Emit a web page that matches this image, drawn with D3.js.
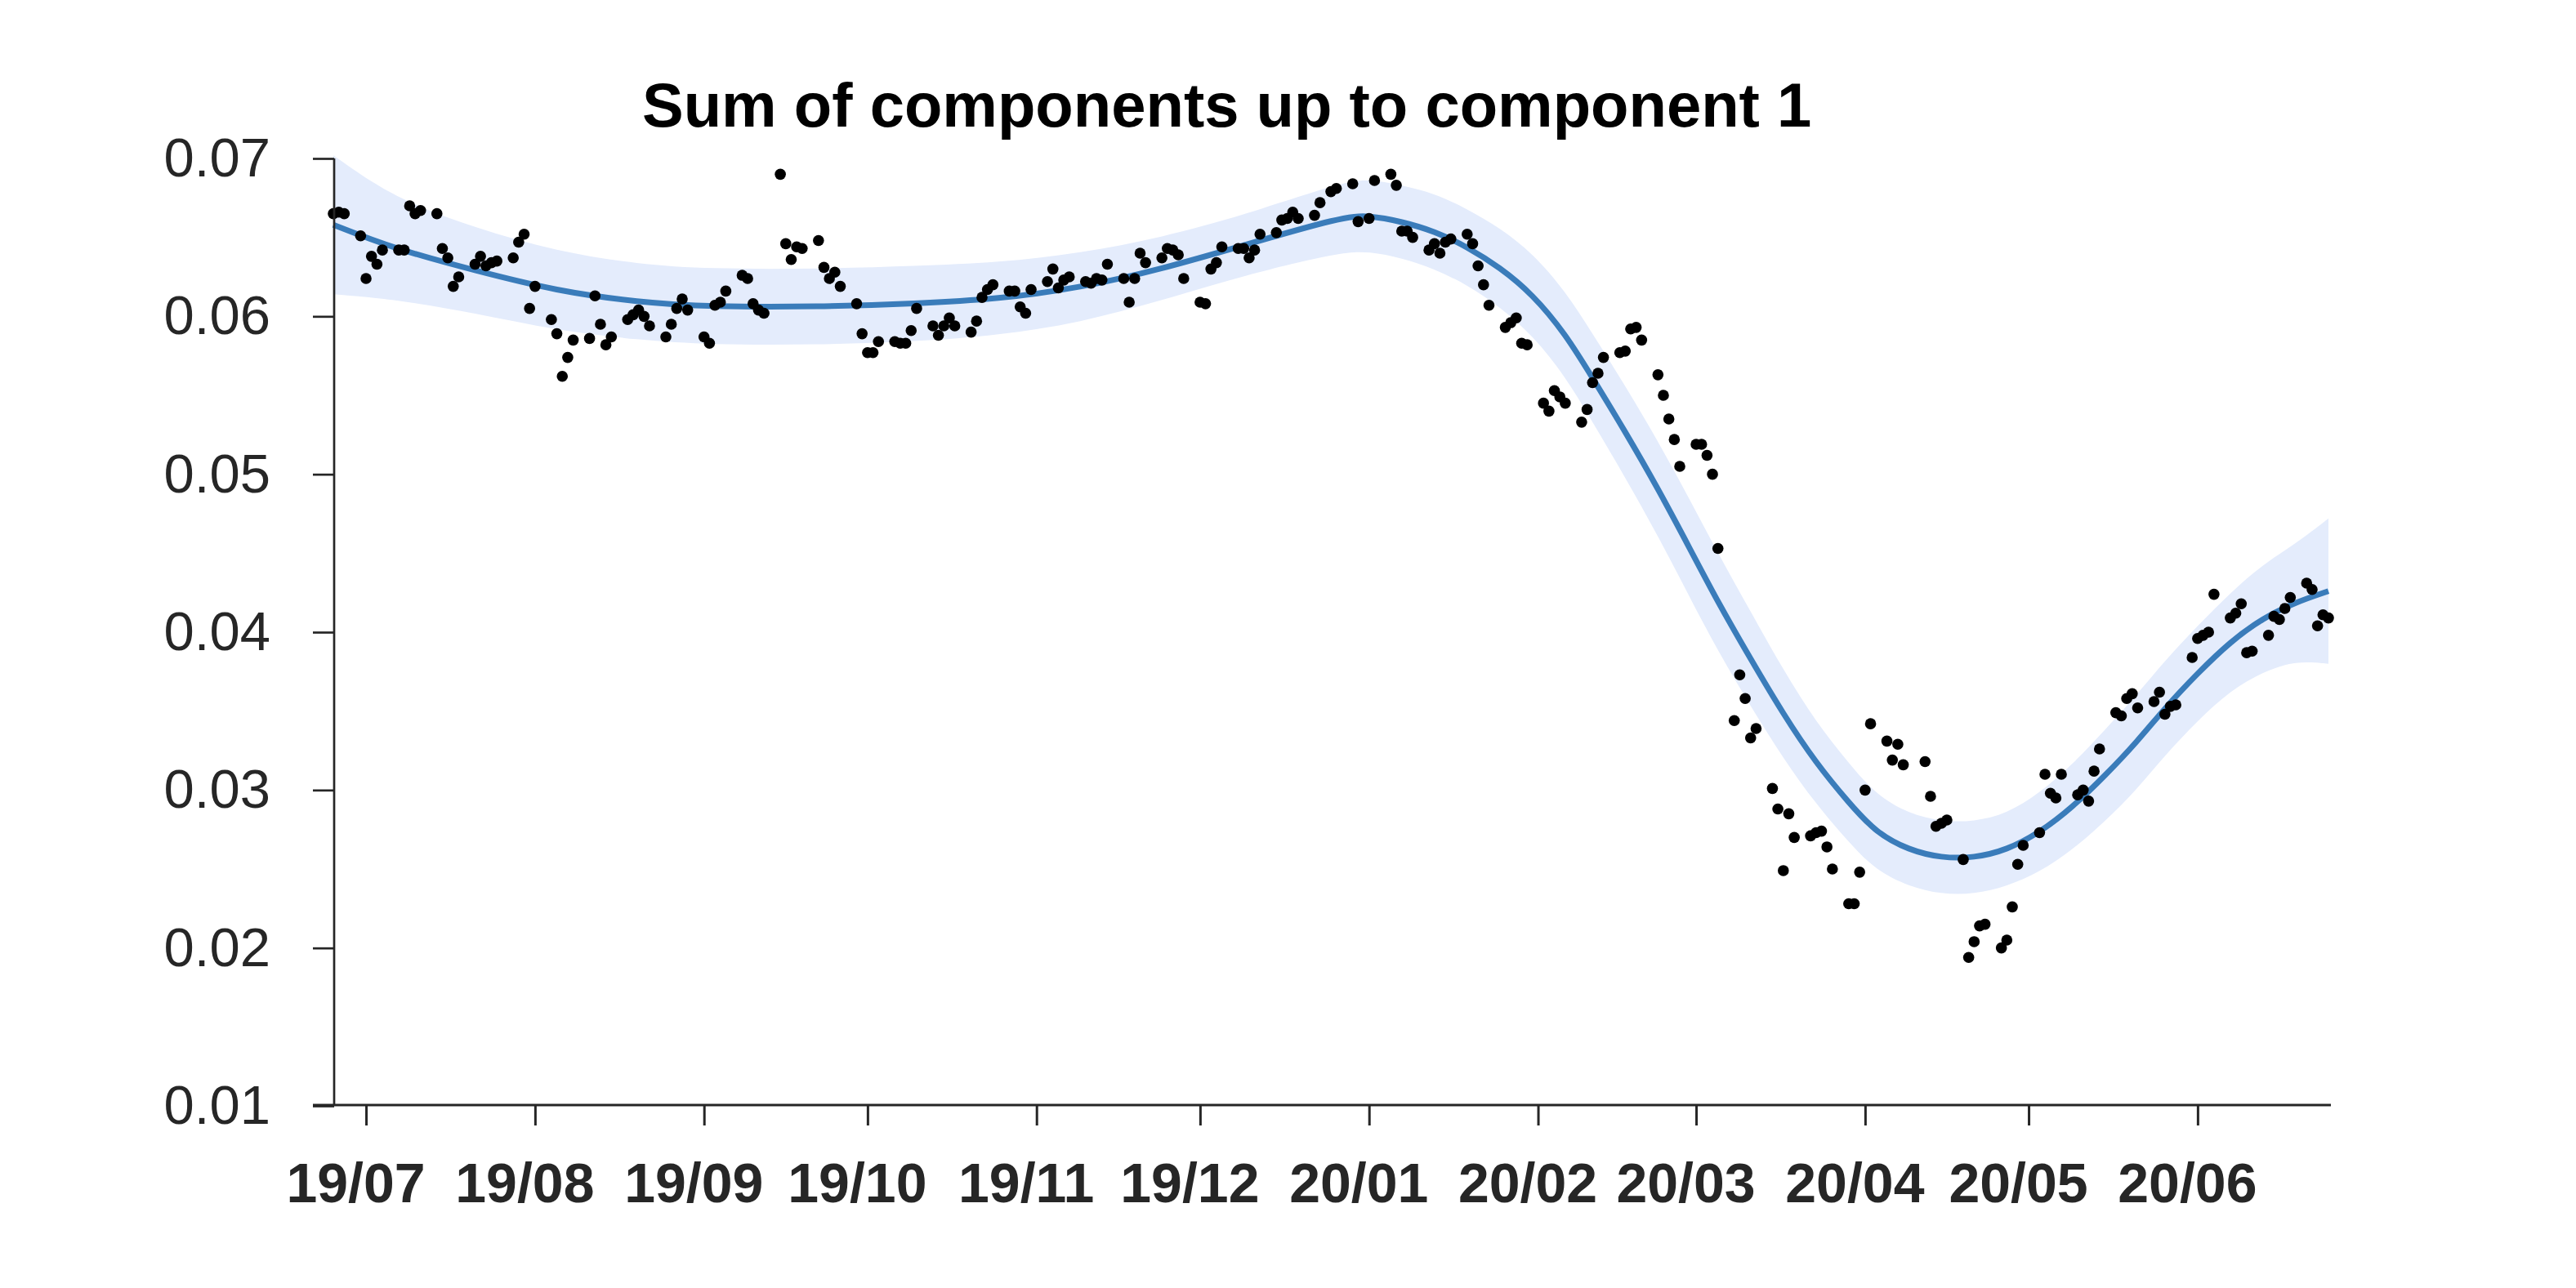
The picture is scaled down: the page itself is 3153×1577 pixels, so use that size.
<!DOCTYPE html>
<html><head><meta charset="utf-8">
<script src="https://cdn.jsdelivr.net/npm/d3@7"></script>
<style>
html,body{margin:0;padding:0;background:#fff;}
svg{display:block;font-family:"Liberation Sans",Arial,Helvetica,sans-serif;}
</style></head>
<body>
<svg id="chart" width="3153" height="1577"></svg>
<script>
const title = "Sum of components up to component 1";

// observed points (date, value)
const dates = [
"2019-06-25","2019-06-26","2019-06-27","2019-06-30","2019-07-01","2019-07-02","2019-07-03","2019-07-04",
"2019-07-07","2019-07-08","2019-07-09","2019-07-10","2019-07-11","2019-07-14","2019-07-15","2019-07-16","2019-07-17","2019-07-18",
"2019-07-21","2019-07-22","2019-07-23","2019-07-24","2019-07-25","2019-07-28","2019-07-29","2019-07-30","2019-07-31","2019-08-01",
"2019-08-04","2019-08-05","2019-08-06","2019-08-07","2019-08-08","2019-08-11","2019-08-12","2019-08-13","2019-08-14","2019-08-15",
"2019-08-18","2019-08-19","2019-08-20","2019-08-21","2019-08-22","2019-08-25","2019-08-26","2019-08-27","2019-08-28","2019-08-29",
"2019-09-01","2019-09-02","2019-09-03","2019-09-04","2019-09-05","2019-09-08","2019-09-09","2019-09-10","2019-09-11","2019-09-12",
"2019-09-15","2019-09-16","2019-09-17","2019-09-18","2019-09-19","2019-09-22","2019-09-23","2019-09-24","2019-09-25","2019-09-26",
"2019-09-29","2019-09-30","2019-10-01","2019-10-02","2019-10-03","2019-10-06","2019-10-07","2019-10-08","2019-10-09","2019-10-10",
"2019-10-13","2019-10-14","2019-10-15","2019-10-16","2019-10-17","2019-10-20","2019-10-21","2019-10-22","2019-10-23","2019-10-24",
"2019-10-27","2019-10-28","2019-10-29","2019-10-30","2019-10-31","2019-11-03","2019-11-04","2019-11-05","2019-11-06","2019-11-07",
"2019-11-10","2019-11-11","2019-11-12","2019-11-13","2019-11-14","2019-11-17","2019-11-18","2019-11-19","2019-11-20","2019-11-21",
"2019-11-24","2019-11-25","2019-11-26","2019-11-27","2019-11-28","2019-12-01","2019-12-02","2019-12-03","2019-12-04","2019-12-05",
"2019-12-08","2019-12-09","2019-12-10","2019-12-11","2019-12-12","2019-12-15","2019-12-16","2019-12-17","2019-12-18","2019-12-19",
"2019-12-22","2019-12-23","2019-12-25","2019-12-26","2019-12-29","2019-12-30","2020-01-01","2020-01-02",
"2020-01-05","2020-01-06","2020-01-07","2020-01-08","2020-01-09","2020-01-12","2020-01-13","2020-01-14","2020-01-15","2020-01-16",
"2020-01-19","2020-01-20","2020-01-21","2020-01-22","2020-01-23","2020-01-26","2020-01-27","2020-01-28","2020-01-29","2020-01-30",
"2020-02-02","2020-02-03","2020-02-04","2020-02-05","2020-02-06","2020-02-09","2020-02-10","2020-02-11","2020-02-12","2020-02-13",
"2020-02-16","2020-02-17","2020-02-18","2020-02-19","2020-02-20","2020-02-23","2020-02-24","2020-02-25","2020-02-26","2020-02-27",
"2020-03-01","2020-03-02","2020-03-03","2020-03-04","2020-03-05","2020-03-08","2020-03-09","2020-03-10","2020-03-11","2020-03-12",
"2020-03-15","2020-03-16","2020-03-17","2020-03-18","2020-03-19","2020-03-22","2020-03-23","2020-03-24","2020-03-25","2020-03-26",
"2020-03-29","2020-03-30","2020-03-31","2020-04-01","2020-04-02","2020-04-05","2020-04-06","2020-04-07","2020-04-08",
"2020-04-12","2020-04-13","2020-04-14","2020-04-15","2020-04-16","2020-04-19","2020-04-20","2020-04-21","2020-04-22","2020-04-23",
"2020-04-26","2020-04-27","2020-04-28","2020-04-29","2020-04-30","2020-05-03","2020-05-04","2020-05-05","2020-05-06","2020-05-07",
"2020-05-10","2020-05-11","2020-05-12","2020-05-13","2020-05-14","2020-05-17","2020-05-18","2020-05-19","2020-05-20","2020-05-21",
"2020-05-24","2020-05-25","2020-05-26","2020-05-27","2020-05-28","2020-05-31","2020-06-01","2020-06-02","2020-06-03","2020-06-04",
"2020-06-07","2020-06-08","2020-06-09","2020-06-10","2020-06-11","2020-06-14","2020-06-15","2020-06-16","2020-06-17","2020-06-18",
"2020-06-21","2020-06-22","2020-06-23","2020-06-24","2020-06-25"
];
const values = [
.0665,.0666,.0665,.0651,.0624,.0638,.0633,.0642,
.0642,.0642,.0670,.0665,.0667,.0665,.0643,.0637,.0619,.0625,
.0633,.0638,.0632,.0634,.0635,.0637,.0647,.0652,.0605,.0619,
.0598,.0589,.0562,.0574,.0585,.0586,.0613,.0595,.0582,.0587,
.0598,.0601,.0604,.0600,.0594,.0587,.0595,.0605,.0611,.0604,
.0587,.0583,.0607,.0609,.0616,.0626,.0624,.0608,.0604,.0602,
.0690,.0646,.0636,.0644,.0643,.0648,.0631,.0624,.0628,.0619,
.0608,.0589,.0577,.0577,.0584,.0584,.0583,.0583,.0591,.0605,
.0594,.0588,.0594,.0599,.0594,.0590,.0597,.0612,.0617,.0620,
.0616,.0616,.0606,.0602,.0617,.0622,.0630,.0618,.0623,.0625,
.0622,.0621,.0624,.0623,.0633,.0624,.0609,.0624,.0640,.0634,
.0637,.0643,.0642,.0639,.0624,.0609,.0608,.0630,.0634,.0644,
.0643,.0643,.0637,.0642,.0652,.0653,.0661,.0662,.0666,.0662,
.0664,.0672,.0679,.0681,.0684,.0660,.0662,.0686,
.0690,.0683,.0654,.0654,.0650,.0642,.0646,.0640,.0647,.0649,
.0652,.0646,.0632,.0620,.0607,.0593,.0596,.0599,.0583,.0582,
.0545,.0540,.0553,.0549,.0545,.0533,.0541,.0558,.0564,.0574,
.0577,.0578,.0592,.0593,.0585,.0563,.0550,.0535,.0522,.0505,
.0519,.0519,.0512,.0500,.0453,.0344,.0373,.0358,.0333,.0339,
.0301,.0288,.0249,.0285,.0270,.0271,.0273,.0274,.0264,.0250,
.0228,.0228,.0248,.0300,.0342,.0331,.0319,.0329,.0316,
.0318,.0296,.0277,.0279,.0281,.0256,.0194,.0204,.0214,.0215,
.0200,.0205,.0226,.0253,.0265,.0273,.0310,.0298,.0295,.0310,
.0297,.0300,.0293,.0312,.0326,.0349,.0347,.0358,.0361,.0352,
.0356,.0362,.0348,.0353,.0354,.0384,.0396,.0398,.0400,.0424,
.0409,.0412,.0418,.0387,.0388,.0398,.0410,.0408,.0415,.0422,
.0431,.0427,.0404,.0411,.0409
];

// fitted curve (mean) and half-width of its shaded band, read at sample dates
const fitDates = ["2019-06-25","2019-07-06","2019-07-21","2019-08-05","2019-08-20","2019-09-02","2019-09-22","2019-10-10",
"2019-10-25","2019-11-09","2019-11-24","2019-12-09","2019-12-27","2020-01-01","2020-01-07","2020-01-13","2020-01-19","2020-01-25",
"2020-01-31","2020-02-06","2020-02-11","2020-02-17","2020-02-23","2020-02-29","2020-03-05","2020-03-11","2020-03-17","2020-03-23",
"2020-03-29","2020-04-03","2020-04-09","2020-04-15","2020-04-21","2020-04-27","2020-05-03","2020-05-09","2020-05-15","2020-05-21",
"2020-05-26","2020-06-01","2020-06-07","2020-06-13","2020-06-19","2020-06-25"];
const fitMean = [.0658,.0643,.0629,.0616,.0609,.0606,.0606,.0608,
.0611,.0618,.0630,.0645,.0663,.0664,.0660,.0654,.0644,.0631,
.0614,.0589,.0561,.0527,.0491,.0452,.0419,.0383,.0348,.0317,
.0292,.0273,.0262,.0257,.0257,.0262,.0273,.0289,.0309,.0331,
.0352,.0374,.0394,.0409,.0419,.0426];
const fitHalfWidth = [.0044,.0032,.0027,.0025,.0024,.0024,.0024,.0024,
.0023,.0022,.0020,.0019,.0022,.0023,.0023,.0024,.0024,.0025,
.0026,.0027,.0028,.0029,.0030,.0031,.0031,.0030,.0028,.0026,
.0025,.0024,.0023,.0023,.0023,.0023,.0025,.0027,.0029,.0030,
.0030,.0030,.0031,.0034,.0037,.0046];

const yTicks = [0.01,0.02,0.03,0.04,0.05,0.06,0.07];
const xTickDates = ["2019-07-01","2019-08-01","2019-09-01","2019-10-01","2019-11-01","2019-12-01",
"2020-01-01","2020-02-01","2020-03-01","2020-04-01","2020-05-01","2020-06-01"];

const parse = d3.utcParse("%Y-%m-%d");
const axisColor = "#262626";

const svg = d3.select("#chart");
svg.append("rect").attr("width",3153).attr("height",1577).attr("fill","#fff");

const x = d3.scaleUtc().domain([parse("2019-06-25"), parse("2020-06-25")]).range([408, 2850]);
const y = d3.scaleLinear().domain([0.01, 0.07]).range([1354, 194]);

const fit = fitDates.map((d,i)=>({date:parse(d), m:fitMean[i], lo:fitMean[i]-fitHalfWidth[i], hi:fitMean[i]+fitHalfWidth[i]}));
const pts = dates.map((d,i)=>({date:parse(d), v:values[i]}));
const curve = d3.curveBasis;

// band
svg.append("path")
  .datum(fit)
  .attr("fill","#e4ecfc")
  .attr("d", d3.area().x(d=>x(d.date)).y0(d=>y(d.lo)).y1(d=>y(d.hi)).curve(curve));

// mean line
svg.append("path")
  .datum(fit)
  .attr("fill","none")
  .attr("stroke","#3a7cba")
  .attr("stroke-width",7)
  .attr("d", d3.line().x(d=>x(d.date)).y(d=>y(d.m)).curve(curve));

// points
svg.append("g").selectAll("circle").data(pts).join("circle")
  .attr("cx", d=>x(d.date)).attr("cy", d=>y(d.v)).attr("r", 6.8).attr("fill","#000");

// y axis
const yAxis = svg.append("g").attr("transform","translate(409,0)")
  .call(d3.axisLeft(y).tickValues(yTicks).tickSize(26).tickPadding(52).tickFormat(d3.format(".2f")));
yAxis.select(".domain").remove();
yAxis.selectAll(".tick line").attr("stroke",axisColor).attr("stroke-width",2.7);
yAxis.selectAll(".tick text").attr("fill",axisColor).attr("font-size",67)
  .attr("font-family","'Liberation Sans',Arial,sans-serif");

// x axis
const xAxis = svg.append("g").attr("transform","translate(0,1353)")
  .call(d3.axisBottom(x).tickValues(xTickDates.map(parse)).tickSize(25).tickPadding(46).tickFormat(d3.utcFormat("%y/%m")));
xAxis.select(".domain").remove();
xAxis.selectAll(".tick line").attr("stroke",axisColor).attr("stroke-width",3);
xAxis.selectAll(".tick text").attr("fill",axisColor).attr("font-size",68).attr("font-weight","bold")
  .attr("dx",-13).attr("font-family","'Liberation Sans',Arial,sans-serif");

// axis lines
svg.append("line").attr("x1",409).attr("x2",409).attr("y1",194).attr("y2",1354)
  .attr("stroke",axisColor).attr("stroke-width",2.7);
svg.append("line").attr("x1",383).attr("x2",2853).attr("y1",1353).attr("y2",1353)
  .attr("stroke",axisColor).attr("stroke-width",3);

// title
svg.append("text").attr("x",786).attr("y",155).attr("font-size",76).attr("font-weight","bold")
  .attr("fill","#000").text(title);
</script>
</body></html>
